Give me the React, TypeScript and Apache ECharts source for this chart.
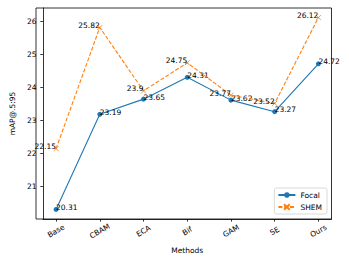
import React, { useEffect, useRef } from "react";
import * as echarts from "echarts";

const categories = ["Base", "CBAM", "ECA", "Bif", "GAM", "SE", "Ours"];
const focal = [20.31, 23.19, 23.65, 24.31, 23.62, 23.27, 24.72];
const shem = [22.15, 25.82, 23.9, 24.75, 23.77, 23.52, 26.12];
const yTicks = [21, 22, 23, 24, 25, 26];

const FONT = "DejaVu Sans";
const FS = 7.5;

export default function App() {
  const ref = useRef<HTMLDivElement>(null);
  useEffect(() => {
    if (!ref.current) return;
    const chart = echarts.init(ref.current, undefined, { renderer: "svg" });
    const xIdx = categories.map((_, i) => i);
    chart.setOption({
      animation: false,
      textStyle: { fontFamily: FONT, color: "#000" },
      grid: { left: 36, top: 8, right: 17.5, bottom: 43, show: false },
      xAxis: {
        type: "value",
        min: -0.3,
        max: 6.3,
        name: "Methods",
        nameLocation: "middle",
        nameGap: 27,
        nameTextStyle: { fontFamily: FONT, fontSize: FS, color: "#000" },
        axisLine: { show: true, onZero: false, lineStyle: { color: "#000", width: 0.8 } },
        axisTick: {
          show: true,
          length: 2.6,
          customValues: xIdx,
          lineStyle: { color: "#000", width: 0.8 },
        },
        axisLabel: {
          customValues: xIdx,
          formatter: (v: number) => categories[Math.round(v)] ?? "",
          rotate: 30,
          align: "center",
          verticalAlign: "middle",
          margin: 12,
          fontFamily: FONT,
          fontSize: FS,
          color: "#000",
        },
        splitLine: { show: false },
      },
      yAxis: {
        type: "value",
        min: 20.02,
        max: 26.41,
        name: "mAP@.5:95",
        nameLocation: "middle",
        nameGap: 25,
        nameTextStyle: { fontFamily: FONT, fontSize: FS, color: "#000" },
        axisLine: { show: true, onZero: false, lineStyle: { color: "#000", width: 0.8 } },
        axisTick: {
          show: true,
          length: 2.6,
          customValues: yTicks,
          lineStyle: { color: "#000", width: 0.8 },
        },
        axisLabel: {
          customValues: yTicks,
          margin: 6.5,
          fontFamily: FONT,
          fontSize: FS,
          color: "#000",
        },
        splitLine: { show: false },
      },
      graphic: [
        {
          type: "rect",
          shape: { x: 36, y: 8, width: 349 - 36 - 17.5, height: 262 - 8 - 43 },
          style: { fill: "none", stroke: "#000", lineWidth: 0.8 },
          silent: true,
          z: 0,
        },
      ],
      legend: {
        orient: "vertical",
        right: 22,
        bottom: 48,
        itemWidth: 17,
        itemHeight: 7,
        itemGap: 4,
        padding: [3, 5, 3, 3],
        backgroundColor: "#fff",
        borderColor: "#d0d0d0",
        borderWidth: 0.8,
        borderRadius: 2,
        textStyle: { fontFamily: FONT, fontSize: FS, color: "#000", padding: [0, 0, 0, 0] },
        data: ["Focal", "SHEM"],
      },
      series: [
        {
          name: "Focal",
          type: "line",
          data: focal.map((v, i) => [i, v]),
          symbol: "circle",
          symbolSize: 5,
          lineStyle: { color: "#1f77b4", width: 1.1 },
          itemStyle: { color: "#1f77b4" },
          label: {
            show: true,
            position: "inside",
            align: "left",
            verticalAlign: "bottom",
            offset: [0, 2],
            formatter: (p: any) => String(p.value[1]),
            fontFamily: FONT,
            fontSize: FS,
            color: "#000",
          },
          z: 3,
        },
        {
          name: "SHEM",
          type: "line",
          data: shem.map((v, i) => [i, v]),
          symbol: "path://M0,0L10,10M10,0L0,10",
          symbolSize: 5,
          lineStyle: { color: "#ff7f0e", width: 1.1, type: [4, 1.8] },
          itemStyle: { color: "#ff7f0e", borderColor: "#ff7f0e", borderWidth: 0.8 },
          label: {
            show: true,
            position: "inside",
            align: "right",
            verticalAlign: "bottom",
            offset: [0, 2],
            formatter: (p: any) => String(p.value[1]),
            fontFamily: FONT,
            fontSize: FS,
            color: "#000",
          },
          z: 4,
        },
      ],
    });
    return () => chart.dispose();
  }, []);
  return <div ref={ref} style={{ width: 349, height: 262, position: "absolute", left: 0, top: 0 }} />;
}
